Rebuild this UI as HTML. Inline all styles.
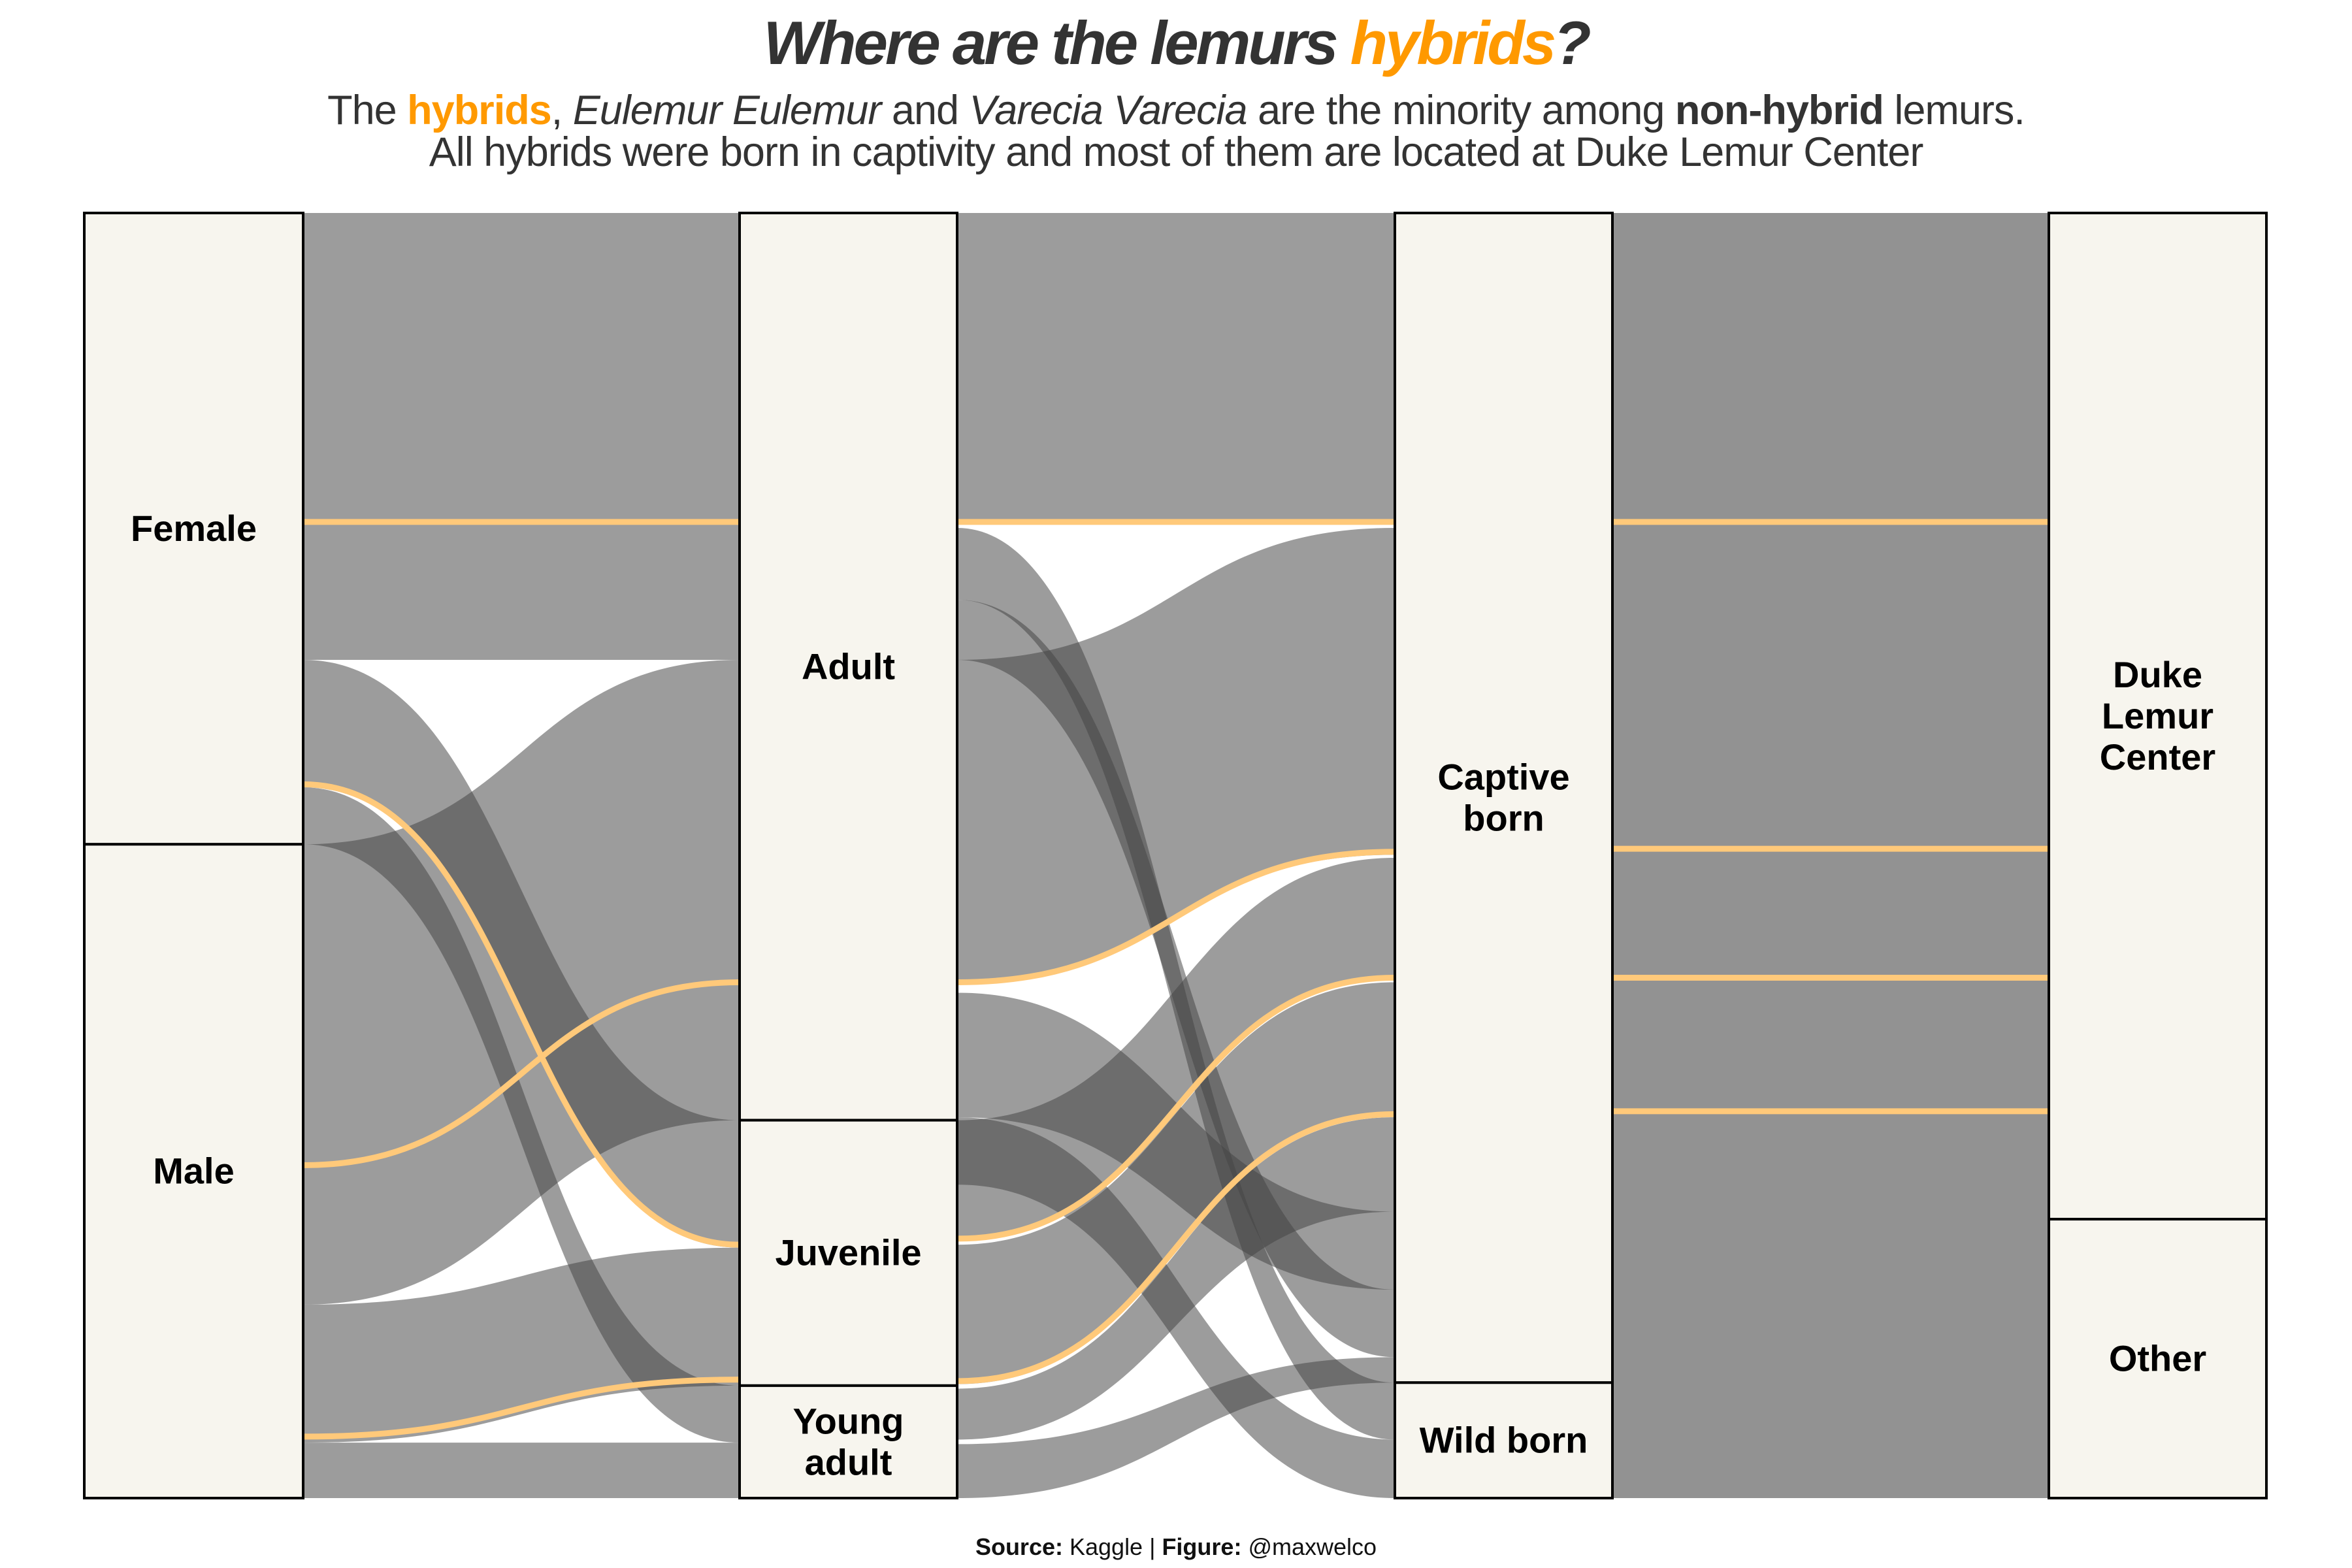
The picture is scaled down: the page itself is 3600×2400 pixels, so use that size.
<!DOCTYPE html>
<html><head><meta charset="utf-8"><style>
html,body{margin:0;padding:0;background:#fff;}
svg{display:block;}
</style></head><body>
<svg id="chart" width="3600" height="2400" viewBox="0 0 3600 2400" xmlns="http://www.w3.org/2000/svg">
<text x="1800" y="98" text-anchor="middle" font-family="'Liberation Sans',sans-serif" font-weight="bold" font-style="italic" font-size="94" fill="#333" letter-spacing="-4">Where are the lemurs <tspan fill="#ff9900">hybrids</tspan>?</text>
<text x="1800" y="190" text-anchor="middle" font-family="'Liberation Sans',sans-serif" font-size="63" fill="#333" letter-spacing="-1">The <tspan fill="#ff9900" font-weight="bold">hybrids</tspan>, <tspan font-style="italic">Eulemur Eulemur</tspan> and <tspan font-style="italic">Varecia Varecia</tspan> are the minority among <tspan font-weight="bold">non-hybrid</tspan> lemurs.</text>
<text x="1800" y="254" text-anchor="middle" font-family="'Liberation Sans',sans-serif" font-size="63" fill="#333" letter-spacing="-1">All hybrids were born in captivity and most of them are located at Duke Lemur Center</text>
<g id="flows"></g>
<g id="hyb"></g>
<g id="strata"></g>
<text x="1800" y="2380" text-anchor="middle" font-family="'Liberation Sans',sans-serif" font-size="36" fill="#111"><tspan font-weight="bold">Source:</tspan> Kaggle | <tspan font-weight="bold">Figure:</tspan> @maxwelco</text>
</svg>
<script>
// counts (total 857)
const sexLabels = ["Female","Male"];
const sexCounts = [421,436];
const ageLabels = ["Adult","Juvenile","Young adult"];
const ageCounts = [605,177,75];
const birthLabels = ["Captive born","Wild born"];
const birthCounts = [780,77];
const locLabels = ["Duke Lemur Center","Other"];
const locCounts = [671,186];
// flows: [fromTop, fromBottom, toTop, toBottom] in cumulative count units
const gap1Flows = [[0,298,0,298],[298,383,605,690],[383,421,782,820],[421,728,298,605],[728,820,690,782],[820,857,820,857]];
const gap2Flows = [[0,206,0,206],[298,513,210,428],[210,258,780,818],[258,298,718,763],[520,603,666,718],[603,648,818,857],[605,684,430,511],[688,781,513,601],[784,818,603,666],[821,857,763,780]];
const gap3Flows = [[0,857,0,857]];
// hybrid individuals positions [from, to]
const gap1Hybrids = [[206,206],[381,688],[635,513],[816,778]];
const gap2Hybrids = [[206,206],[513,426],[684,510],[779,601]];
const gap3Hybrids = [[206,206],[424,424],[510,510],[599,599]];

const NS="http://www.w3.org/2000/svg";
const Y0=326, Y1=2293, TOTAL=857;
const y=v=>Y0+v*(Y1-Y0)/TOTAL;
const axX=[[129,464],[1132,1465],[2135,2468],[3136,3469]];
const flowsG=document.getElementById('flows'), hybG=document.getElementById('hyb'), strataG=document.getElementById('strata');
function ribbon(x0,x1,f){
  const m=(x0+x1)/2;
  const a=y(f[0]),b=y(f[1]),c=y(f[2]),d=y(f[3]);
  return `M${x0},${a} C${m},${a} ${m},${c} ${x1},${c} L${x1},${d} C${m},${d} ${m},${b} ${x0},${b} Z`;
}
[[gap1Flows,0],[gap2Flows,1],[gap3Flows,2]].forEach(([fl,g])=>{
  const x0=axX[g][1], x1=axX[g+1][0];
  fl.forEach((f,i)=>{
    const p=document.createElementNS(NS,'path');
    p.setAttribute('d',ribbon(x0,x1,f));
    p.setAttribute('fill','#444');
    p.setAttribute('fill-opacity', g===2?'0.58':'0.53');
    
    
    flowsG.appendChild(p);
  });
});
[[gap1Hybrids,0],[gap2Hybrids,1],[gap3Hybrids,2]].forEach(([hl,g])=>{
  const x0=axX[g][1], x1=axX[g+1][0], m=(x0+x1)/2;
  hl.forEach((h,i)=>{
    const a=y(h[0]),c=y(h[1]);
    const p=document.createElementNS(NS,'path');
    p.setAttribute('d',`M${x0},${a} C${m},${a} ${m},${c} ${x1},${c}`);
    p.setAttribute('fill','none');
    p.setAttribute('stroke','#ffc97a');
    p.setAttribute('stroke-width','9');
    
    
    hybG.appendChild(p);
  });
});
const axes=[[sexLabels,sexCounts],[ageLabels,ageCounts],[birthLabels,birthCounts],[locLabels,locCounts]];
const labelLines={"Captive born":["Captive","born"],"Young adult":["Young","adult"],"Duke Lemur Center":["Duke","Lemur","Center"]};
axes.forEach(([labs,cnts],ai)=>{
  let cum=0;
  const [xa,xb]=axX[ai];
  labs.forEach((lab,i)=>{
    const t=y(cum), b=y(cum+cnts[i]); cum+=cnts[i];
    const r=document.createElementNS(NS,'rect');
    r.setAttribute('x',xa); r.setAttribute('y',t);
    r.setAttribute('width',xb-xa); r.setAttribute('height',b-t);
    r.setAttribute('fill','#f7f5ee'); r.setAttribute('stroke','#000'); r.setAttribute('stroke-width','4');
    
    
    strataG.appendChild(r);
    const lines=labelLines[lab]||[lab];
    const tx=document.createElementNS(NS,'text');
    tx.setAttribute('x',(xa+xb)/2);
    tx.setAttribute('text-anchor','middle');
    tx.setAttribute('font-family',"'Liberation Sans',sans-serif");
    tx.setAttribute('font-weight','bold');
    tx.setAttribute('font-size','56');
    tx.setAttribute('fill','#000');
    
    
    const mid=(t+b)/2, lh=63;
    lines.forEach((ln,k)=>{
      const ts=document.createElementNS(NS,'tspan');
      ts.setAttribute('x',(xa+xb)/2);
      ts.setAttribute('y',mid+19+(k-(lines.length-1)/2)*lh);
      ts.textContent=ln;
      tx.appendChild(ts);
    });
    strataG.appendChild(tx);
  });
});
</script>
</body></html>
